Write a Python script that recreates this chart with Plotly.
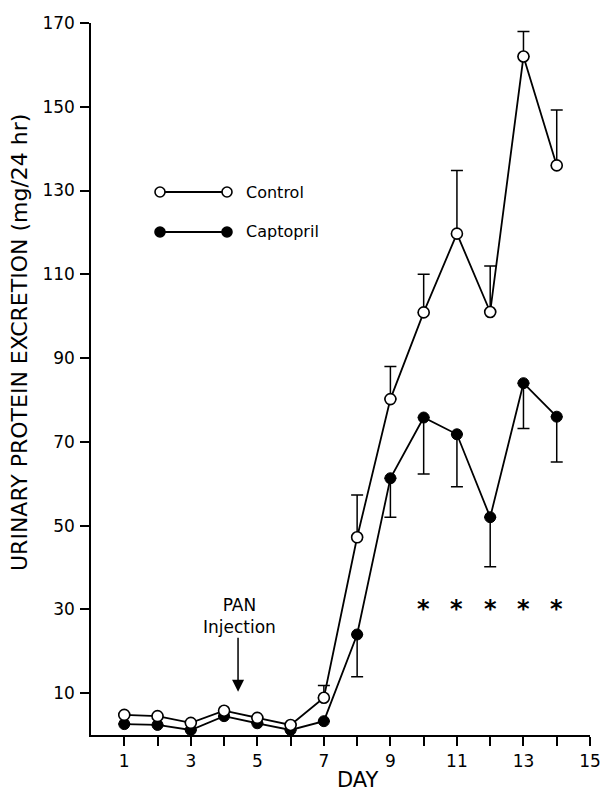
import plotly.graph_objects as go

days = list(range(1, 15))
control = [4.8, 4.5, 2.9, 5.8, 4.1, 2.4, 8.9, 47.2, 80.2, 100.9, 119.7, 101.0, 162.0, 136.0]
control_err = [0, 0, 0, 0, 0, 0, 2.9, 10.1, 7.8, 9.1, 15.1, 11.0, 6.0, 13.2]
captopril = [2.6, 2.4, 1.2, 4.5, 2.8, 1.2, 3.3, 24.0, 61.3, 75.8, 71.8, 52.0, 84.0, 76.0]
captopril_err = [0, 0, 0, 0, 0, 0, 0, 10.1, 9.3, 13.5, 12.5, 11.8, 10.8, 10.8]
signif_days = [10, 11, 12, 13, 14]
x_ticks = list(range(1, 16))
x_ticktext = [str(d) if d % 2 == 1 else "" for d in x_ticks]
y_ticks = [10, 30, 50, 70, 90, 110, 130, 150, 170]

FONT = "DejaVu Sans"
W, H = 610, 799
L, R, T, B = 91, 20, 23, 64
pw, ph = W - L - R, H - T - B
PLOT_LEFT = L
PLOT_BOTTOM = H - B


def px2paper(px, py):
    return (px - PLOT_LEFT) / pw, (PLOT_BOTTOM - py) / ph


def paper_text(px, py, text, size, angle=0, xanchor="center"):
    x, y = px2paper(px, py)
    fig.add_annotation(x=x, y=y, xref="paper", yref="paper", text=text, showarrow=False,
                       xanchor=xanchor, yanchor="middle", textangle=angle,
                       font=dict(family=FONT, size=size, color="black"))


fig = go.Figure()

fig.add_trace(go.Scatter(
    x=days, y=captopril, mode="lines+markers", name="Captopril",
    line=dict(color="black", width=1.8),
    marker=dict(symbol="circle", size=11, color="black", line=dict(color="black", width=1)),
    error_y=dict(type="data", symmetric=False, array=[0] * len(days), arrayminus=captopril_err,
                 color="black", thickness=1.5, width=6),
    cliponaxis=False, showlegend=False,
))
fig.add_trace(go.Scatter(
    x=days, y=control, mode="lines+markers", name="Control",
    line=dict(color="black", width=1.8),
    marker=dict(symbol="circle", size=11, color="white", line=dict(color="black", width=1.6)),
    error_y=dict(type="data", symmetric=False, array=control_err, arrayminus=[0] * len(days),
                 color="black", thickness=1.5, width=6),
    cliponaxis=False, showlegend=False,
))

# significance stars
for d in signif_days:
    fig.add_annotation(x=d, y=31, xref="x", yref="y", text="<b>*</b>", showarrow=False,
                       xanchor="center", yanchor="middle",
                       font=dict(family=FONT, size=24, color="black"), yshift=-3.5)

# PAN injection arrow
fig.add_annotation(x=4.42, y=10.3, ax=4.42, ay=23.6, xref="x", yref="y", axref="x", ayref="y",
                   text="", showarrow=True, arrowhead=2, arrowsize=1.6, arrowwidth=1.5,
                   arrowcolor="black")
paper_text(239, 616, "PAN<br>Injection", 17)

# legend (custom glyphs)
shapes = []
for py, fill, label in [(192, "white", "Control"), (232, "black", "Captopril")]:
    x0, yy = px2paper(160, py)
    x1, _ = px2paper(227, py)
    shapes.append(dict(type="line", xref="paper", yref="paper", x0=x0, x1=x1, y0=yy, y1=yy,
                       line=dict(color="black", width=1.8)))
    for xc in (x0, x1):
        shapes.append(dict(type="circle", xref="paper", yref="paper", xsizemode="pixel",
                           ysizemode="pixel", xanchor=xc, yanchor=yy, x0=-5, x1=5, y0=-5, y1=5,
                           fillcolor=fill, line=dict(color="black", width=1.6)))
    paper_text(244, py, label, 16, xanchor="left")

# axis titles
paper_text(19, 343, "URINARY PROTEIN EXCRETION (mg/24 hr)", 22, angle=-90)
paper_text(358, 780, "DAY", 21)

fig.update_layout(
    width=W, height=H, margin=dict(l=L, r=R, t=T, b=B, autoexpand=False),
    paper_bgcolor="white", plot_bgcolor="white",
    shapes=shapes, showlegend=False,
    font=dict(family=FONT, color="black"),
)
fig.update_xaxes(range=[0, 15], tickvals=x_ticks, ticktext=x_ticktext, ticks="outside", ticklen=9,
                 tickwidth=1.5, tickcolor="black", showline=True, linecolor="black", linewidth=1.5,
                 showgrid=False, zeroline=False, tickfont=dict(family=FONT, size=17, color="black"),
                 ticklabelstandoff=1, automargin=False)
fig.update_yaxes(range=[0, 170], tickvals=y_ticks, ticks="outside", ticklen=9, tickwidth=1.5,
                 tickcolor="black", showline=True, linecolor="black", linewidth=1.5, showgrid=False,
                 zeroline=False, tickfont=dict(family=FONT, size=17, color="black"),
                 ticklabelstandoff=2, automargin=False)

fig.write_html("out.html", config={"displayModeBar": False},
               post_script="document.body.style.margin='0';")
